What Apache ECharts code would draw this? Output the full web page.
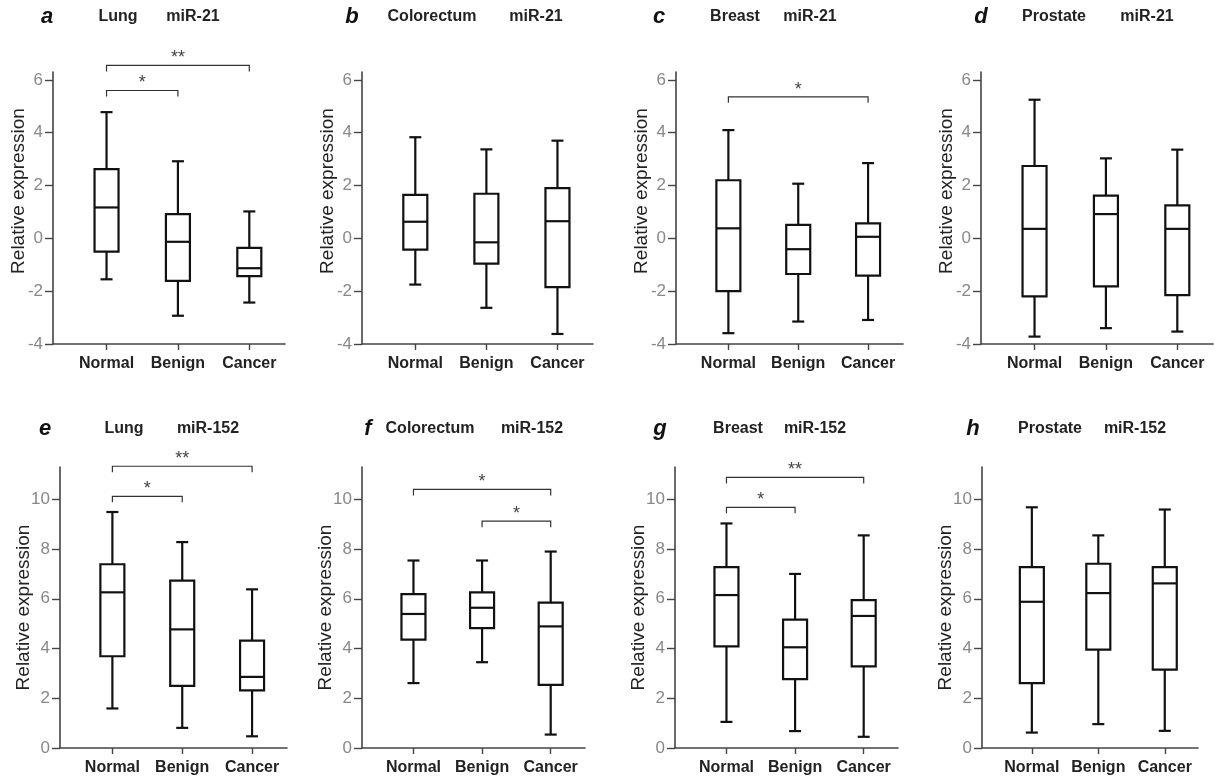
<!DOCTYPE html>
<html>
<head>
<meta charset="utf-8">
<script src="https://cdn.jsdelivr.net/npm/echarts@6/dist/echarts.min.js"></script>
<style>
  html, body { margin: 0; background: #fff; }
  #main { width: 1215px; height: 779px; }
</style>
</head>
<body>
<div id="main"></div>
<script>
// categories and labels
const categories = ['Normal', 'Benign', 'Cancer']
const panelLetters = ['a', 'b', 'c', 'd', 'e', 'f', 'g', 'h']
const tissues = ['Lung', 'Colorectum', 'Breast', 'Prostate', 'Lung', 'Colorectum', 'Breast', 'Prostate']
const markers = ['miR-21', 'miR-21', 'miR-21', 'miR-21', 'miR-152', 'miR-152', 'miR-152', 'miR-152']
const yTicksMiR21 = [-4, -2, 0, 2, 4, 6]
const yTicksMiR152 = [0, 2, 4, 6, 8, 10]

// box stats: [min, Q1, median, Q3, max] per category
const lungMiR21 = [[-1.55, -0.5, 1.17, 2.62, 4.78], [-2.93, -1.61, -0.13, 0.92, 2.92], [-2.43, -1.43, -1.13, -0.36, 1.02]]
const colorectumMiR21 = [[-1.75, -0.43, 0.63, 1.65, 3.83], [-2.63, -0.96, -0.15, 1.69, 3.37], [-3.62, -1.85, 0.65, 1.9, 3.7]]
const breastMiR21 = [[-3.59, -2.0, 0.38, 2.2, 4.1], [-3.15, -1.35, -0.41, 0.51, 2.07], [-3.09, -1.41, 0.06, 0.57, 2.85]]
const prostateMiR21 = [[-3.72, -2.2, 0.36, 2.74, 5.25], [-3.4, -1.82, 0.92, 1.62, 3.03], [-3.53, -2.15, 0.36, 1.25, 3.36]]
const lungMiR152 = [[1.59, 3.69, 6.26, 7.39, 9.49], [0.81, 2.5, 4.77, 6.73, 8.28], [0.47, 2.32, 2.86, 4.32, 6.38]]
const colorectumMiR152 = [[2.61, 4.36, 5.39, 6.19, 7.54], [3.45, 4.82, 5.64, 6.26, 7.54], [0.54, 2.54, 4.89, 5.85, 7.9]]
const breastMiR152 = [[1.05, 4.09, 6.15, 7.27, 9.03], [0.68, 2.77, 4.05, 5.16, 7.0], [0.45, 3.28, 5.31, 5.95, 8.55]]
const prostateMiR152 = [[0.62, 2.61, 5.88, 7.27, 9.68], [0.96, 3.96, 6.23, 7.41, 8.55], [0.69, 3.15, 6.62, 7.27, 9.59]]

// significance brackets: [fromCategory, toCategory, y, label]
const lungMiR21Sig = [[0, 1, 5.6, '*'], [0, 2, 6.55, '**']]
const breastMiR21Sig = [[0, 2, 5.36, '*']]
const lungMiR152Sig = [[0, 1, 10.12, '*'], [0, 2, 11.33, '**']]
const colorectumMiR152Sig = [[0, 2, 10.4, '*'], [1, 2, 9.12, '*']]
const breastMiR152Sig = [[0, 1, 9.68, '*'], [0, 2, 10.88, '**']]

const boxStats = [lungMiR21, colorectumMiR21, breastMiR21, prostateMiR21,
  lungMiR152, colorectumMiR152, breastMiR152, prostateMiR152]
const brackets = [lungMiR21Sig, [], breastMiR21Sig, [],
  lungMiR152Sig, colorectumMiR152Sig, breastMiR152Sig, []]

// layout (pixels)
const gridLeft = [53, 362, 676, 981, 60, 362, 675, 982]
const gridRight = [285, 593, 903, 1213, 287, 585, 898, 1198]
const rowTop = [72, 467]
const rowBottom = [344, 748]
const letterX = [47, 352, 659, 981, 45, 368, 660, 973]
const tissueX = [118, 432, 735, 1054, 124, 430, 738, 1050]
const markerX = [193, 536, 810, 1147, 208, 532, 815, 1135]
const titleY = [17, 429]

const FONT = '"Liberation Sans", Arial, sans-serif'
const AXIS_COLOR = '#444'
const BOX_COLOR = '#111'

const chart = echarts.init(document.getElementById('main'))

function boxRenderer () {
  return function (params, api) {
    const x = api.value(0)
    const pMin = api.coord([x, api.value(1)])
    const pQ1 = api.coord([x, api.value(2)])
    const pMed = api.coord([x, api.value(3)])
    const pQ3 = api.coord([x, api.value(4)])
    const pMax = api.coord([x, api.value(5)])
    const cx = pMin[0]
    const bw = 12
    const cw = 6
    const style = { stroke: BOX_COLOR, lineWidth: 2.2, fill: null }
    const line = (x1, y1, x2, y2) => ({ type: 'line', shape: { x1, y1, x2, y2 }, style })
    return {
      type: 'group',
      children: [
        { type: 'rect', shape: { x: cx - bw, y: pQ3[1], width: bw * 2, height: pQ1[1] - pQ3[1] }, style },
        line(cx - bw, pMed[1], cx + bw, pMed[1]),
        line(cx, pQ3[1], cx, pMax[1]),
        line(cx - cw, pMax[1], cx + cw, pMax[1]),
        line(cx, pQ1[1], cx, pMin[1]),
        line(cx - cw, pMin[1], cx + cw, pMin[1])
      ]
    }
  }
}

function bracketRenderer (list) {
  return function (params, api) {
    const item = list[params.dataIndex]
    const a = api.coord([item[0], item[2]])
    const b = api.coord([item[1], item[2]])
    const drop = 6
    return {
      type: 'group',
      children: [
        {
          type: 'polyline',
          shape: { points: [[a[0], a[1] + drop], [a[0], a[1]], [b[0], b[1]], [b[0], b[1] + drop]] },
          style: { stroke: '#333', lineWidth: 1.2, fill: null }
        },
        {
          type: 'text',
          style: {
            text: item[3], x: (a[0] + b[0]) / 2, y: a[1] + 2,
            align: 'center', verticalAlign: 'bottom',
            textAlign: 'center', textVerticalAlign: 'bottom',
            font: '18px ' + FONT, fill: '#444'
          }
        }
      ]
    }
  }
}

const grids = []
const xAxes = []
const yAxes = []
const series = []
const graphics = []

boxStats.forEach((stats, i) => {
  const row = i < 4 ? 0 : 1
  const ticks = row === 0 ? yTicksMiR21 : yTicksMiR152
  grids.push({
    left: gridLeft[i],
    top: rowTop[row],
    width: gridRight[i] - gridLeft[i],
    height: rowBottom[row] - rowTop[row],
    containLabel: false,
    outerBoundsMode: 'none'
  })
  xAxes.push({
    gridIndex: i,
    type: 'value',
    min: -0.75,
    max: 2.5,
    axisLine: { show: true, onZero: false, lineStyle: { color: AXIS_COLOR, width: 1.6 } },
    axisTick: { show: true, customValues: [0, 1, 2], length: 6, lineStyle: { color: AXIS_COLOR, width: 1.4 } },
    axisLabel: {
      customValues: [0, 1, 2],
      formatter: v => categories[Math.round(v)],
      margin: 12,
      color: '#222',
      fontSize: 16,
      fontWeight: 'bold',
      fontFamily: FONT
    },
    splitLine: { show: false }
  })
  yAxes.push({
    gridIndex: i,
    type: 'value',
    min: row === 0 ? -4 : 0,
    max: row === 0 ? 6.3 : 11.3,
    name: 'Relative expression',
    nameLocation: 'middle',
    nameGap: row === 0 ? 25 : 27,
    nameMoveOverlap: false,
    nameTextStyle: {
      fontSize: 19,
      color: '#222',
      fontFamily: FONT,
      padding: row === 0 ? [0, 0, 0, 34] : 0
    },
    axisLine: { show: true, onZero: false, lineStyle: { color: AXIS_COLOR, width: 1.6 } },
    axisTick: { show: true, customValues: ticks, length: 8, lineStyle: { color: AXIS_COLOR, width: 1.4 } },
    axisLabel: { customValues: ticks, color: '#888', fontSize: 17, margin: 10, fontFamily: FONT },
    splitLine: { show: false }
  })
  series.push({
    type: 'custom',
    xAxisIndex: i,
    yAxisIndex: i,
    clip: false,
    encode: { x: 0, y: [1, 2, 3, 4, 5] },
    renderItem: boxRenderer(),
    data: stats.map((s, k) => [k].concat(s)),
    silent: true
  })
  if (brackets[i].length) {
    series.push({
      type: 'custom',
      xAxisIndex: i,
      yAxisIndex: i,
      clip: false,
      encode: { x: [0, 1], y: 2 },
      renderItem: bracketRenderer(brackets[i]),
      data: brackets[i].map(b => [b[0], b[1], b[2]]),
      silent: true
    })
  }
  const ty = titleY[row]
  graphics.push(
    {
      type: 'text', x: letterX[i], y: ty,
      style: {
        text: panelLetters[i], font: 'italic bold 22px ' + FONT, fill: '#111',
        textAlign: 'center', textVerticalAlign: 'middle', align: 'center', verticalAlign: 'middle'
      }
    },
    {
      type: 'text', x: tissueX[i], y: ty,
      style: {
        text: tissues[i], font: 'bold 16px ' + FONT, fill: '#222',
        textAlign: 'center', textVerticalAlign: 'middle', align: 'center', verticalAlign: 'middle'
      }
    },
    {
      type: 'text', x: markerX[i], y: ty,
      style: {
        text: markers[i], font: 'bold 16px ' + FONT, fill: '#222',
        textAlign: 'center', textVerticalAlign: 'middle', align: 'center', verticalAlign: 'middle'
      }
    }
  )
})

chart.setOption({
  backgroundColor: '#fff',
  animation: false,
  grid: grids,
  xAxis: xAxes,
  yAxis: yAxes,
  series: series,
  graphic: graphics
})
</script>
</body>
</html>
